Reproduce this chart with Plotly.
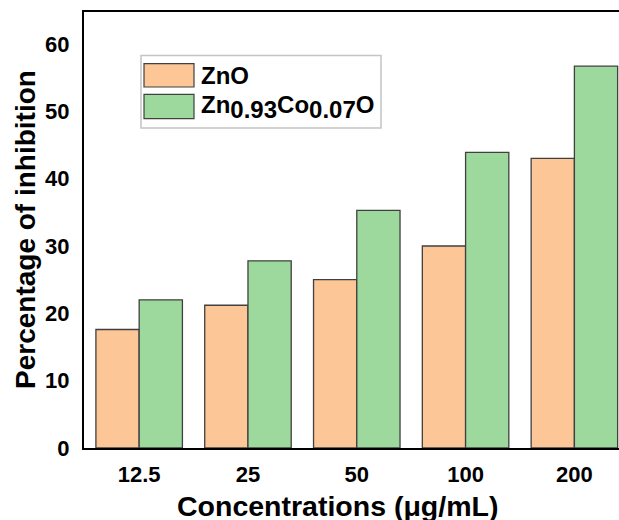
import plotly.graph_objects as go

# ---- data ----
concentrations = ["12.5", "25", "50", "100", "200"]
zno_values = [17.6, 21.2, 25.0, 30.0, 43.0]
znco_values = [22.0, 27.8, 35.3, 43.9, 56.7]
series_names = ["ZnO", "Zn<sub><span style=\"font-size:24px\">0.93</span></sub>Co<sub><span style=\"font-size:24px\">0.07</span></sub>O"]
y_ticks = [0, 10, 20, 30, 40, 50, 60]

ORANGE = "#FCC697"
GREEN = "#9DD89C"
EDGE = "#404040"
FONT = "Liberation Sans, Arial, sans-serif"

W, H = 619, 520
ML, MR, MT, MB = 84, 0, 12, 72
PW = W - ML - MR
PH = H - MT - MB


def px_x(x):
    return (x - ML) / PW


def px_y(y):
    return (H - MB - y) / PH


fig = go.Figure()
fig.add_trace(go.Bar(x=concentrations, y=zno_values, name="ZnO",
                     marker=dict(color=ORANGE, line=dict(color=EDGE, width=1.3)),
                     showlegend=False))
fig.add_trace(go.Bar(x=concentrations, y=znco_values, name="Zn0.93Co0.07O",
                     marker=dict(color=GREEN, line=dict(color=EDGE, width=1.3)),
                     showlegend=False))

shapes = []
annotations = []

# legend box
shapes.append(dict(type="rect", xref="paper", yref="paper",
                   x0=px_x(141), x1=px_x(381), y0=px_y(128), y1=px_y(55.5),
                   line=dict(color="#c4c4c4", width=1.5), fillcolor="white", layer="above"))
swatches = [(63.7, 87.0, ORANGE), (94.3, 118.7, GREEN)]
for (ya, yb, col), name in zip(swatches, series_names):
    shapes.append(dict(type="rect", xref="paper", yref="paper",
                       x0=px_x(144), x1=px_x(194), y0=px_y(yb), y1=px_y(ya),
                       line=dict(color=EDGE, width=1.2), fillcolor=col, layer="above"))
    annotations.append(dict(text=name, xref="paper", yref="paper",
                            x=px_x(199), y=px_y((ya + yb) / 2 + 0.5),
                            xanchor="left", yanchor="middle", showarrow=False,
                            font=dict(family=FONT, size=24, color="black", weight="bold")))

# axis titles
annotations.append(dict(text="Concentrations (μg/mL)", xref="paper", yref="paper",
                        x=px_x(337), y=px_y(506), xanchor="center", yanchor="middle",
                        showarrow=False,
                        font=dict(family=FONT, size=28.5, color="black", weight="bold")))
annotations.append(dict(text="Percentage of inhibition", xref="paper", yref="paper",
                        x=px_x(25), y=px_y(230), xanchor="center", yanchor="middle",
                        textangle=-90, showarrow=False,
                        font=dict(family=FONT, size=28, color="black", weight="bold")))

fig.update_layout(
    width=W, height=H,
    margin=dict(l=ML, r=MR, t=MT, b=MB, pad=0),
    paper_bgcolor="white", plot_bgcolor="white",
    barmode="group", bargap=0.205, bargroupgap=0,
    shapes=shapes, annotations=annotations,
    showlegend=False,
    font=dict(family=FONT, color="black"),
)
fig.update_xaxes(
    type="category", range=[-0.507, 4.41],
    showline=True, linecolor="black", linewidth=2, mirror=True,
    showgrid=False, zeroline=False, ticks="",
    tickfont=dict(family=FONT, size=22, color="black", weight="bold"),
    ticklabelstandoff=6,
)
fig.update_yaxes(
    range=[0, 64.75], tickvals=y_ticks,
    showline=True, linecolor="black", linewidth=2,
    showgrid=False, zeroline=False, ticks="",
    tickfont=dict(family=FONT, size=22, color="black", weight="bold"),
    ticklabelstandoff=8,
)

fig.write_html("out.html")
